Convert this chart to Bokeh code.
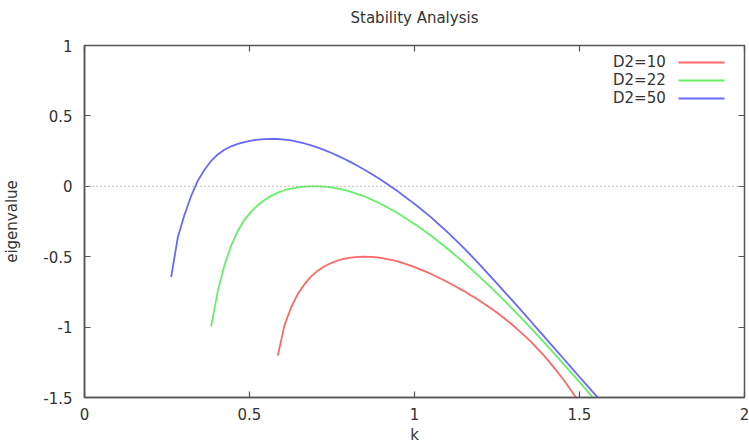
from bokeh.plotting import figure
from bokeh.models import FixedTicker, Span, Legend, LegendItem, LinearAxis, Arrow
from bokeh.embed import file_html
from bokeh.resources import INLINE

# ---- data (curve vertices, k and eigenvalue) ----
k_d10 = [0.5859, 0.6061, 0.6263, 0.6465, 0.6667, 0.6869, 0.7071, 0.7273, 0.7475, 0.7677,
         0.7879, 0.8081, 0.8283, 0.8485, 0.8687, 0.8889, 0.9091, 0.9293, 0.9495, 0.9697,
         0.9899, 1.0101, 1.0303, 1.0505, 1.0707, 1.0909, 1.1111, 1.1313, 1.1515, 1.1717,
         1.1919, 1.2121, 1.2323, 1.2525, 1.2727, 1.2929, 1.3131, 1.3333, 1.3535, 1.3737,
         1.3939, 1.4141, 1.4343, 1.4545, 1.4747, 1.4949]
lam_d10 = [-1.202, -0.986, -0.859, -0.764, -0.695, -0.640, -0.599, -0.568, -0.545, -0.527,
           -0.514, -0.506, -0.501, -0.499, -0.501, -0.505, -0.513, -0.522, -0.533, -0.549,
           -0.565, -0.583, -0.603, -0.623, -0.646, -0.669, -0.694, -0.720, -0.746, -0.775,
           -0.804, -0.836, -0.868, -0.902, -0.939, -0.976, -1.018, -1.061, -1.105, -1.156,
           -1.206, -1.263, -1.322, -1.383, -1.451, -1.519]

k_d22 = [0.3838, 0.4040, 0.4242, 0.4444, 0.4646, 0.4848, 0.5051, 0.5253, 0.5455, 0.5657,
         0.5859, 0.6061, 0.6263, 0.6465, 0.6667, 0.6869, 0.7071, 0.7273, 0.7475, 0.7677,
         0.7879, 0.8081, 0.8283, 0.8485, 0.8687, 0.8889, 0.9091, 0.9293, 0.9495, 0.9697,
         0.9899, 1.0101, 1.0303, 1.0505, 1.0707, 1.0909, 1.1111, 1.1313, 1.1515, 1.1717,
         1.1919, 1.2121, 1.2323, 1.2525, 1.2727, 1.2929, 1.3131, 1.3333, 1.3535, 1.3737,
         1.3939, 1.4141, 1.4343, 1.4545, 1.4747, 1.4949, 1.5152, 1.5354, 1.5556]
lam_d22 = [-0.996, -0.743, -0.561, -0.422, -0.317, -0.238, -0.180, -0.134, -0.097, -0.068,
           -0.045, -0.028, -0.016, -0.008, -0.003, -0.001, 0.000, -0.002, -0.007, -0.016,
           -0.026, -0.039, -0.055, -0.071, -0.093, -0.115, -0.138, -0.165, -0.191, -0.221,
           -0.251, -0.284, -0.317, -0.351, -0.389, -0.426, -0.465, -0.505, -0.545, -0.588,
           -0.631, -0.675, -0.720, -0.766, -0.813, -0.861, -0.910, -0.959, -1.009, -1.060,
           -1.112, -1.164, -1.217, -1.270, -1.323, -1.377, -1.432, -1.487, -1.543]

k_d50 = [0.2626, 0.2828, 0.3030, 0.3232, 0.3434, 0.3636, 0.3838, 0.4040, 0.4242, 0.4444,
         0.4646, 0.4848, 0.5051, 0.5253, 0.5455, 0.5657, 0.5859, 0.6061, 0.6263, 0.6465,
         0.6667, 0.6869, 0.7071, 0.7273, 0.7475, 0.7677, 0.7879, 0.8081, 0.8283, 0.8485,
         0.8687, 0.8889, 0.9091, 0.9293, 0.9495, 0.9697, 0.9899, 1.0101, 1.0303, 1.0505,
         1.0707, 1.0909, 1.1111, 1.1313, 1.1515, 1.1717, 1.1919, 1.2121, 1.2323, 1.2525,
         1.2727, 1.2929, 1.3131, 1.3333, 1.3535, 1.3737, 1.3939, 1.4141, 1.4343, 1.4545,
         1.4747, 1.4949, 1.5152, 1.5354, 1.5556]
lam_d50 = [-0.645, -0.362, -0.202, -0.069, 0.040, 0.118, 0.180, 0.226, 0.260, 0.284,
           0.301, 0.314, 0.324, 0.331, 0.335, 0.337, 0.336, 0.332, 0.326, 0.316,
           0.304, 0.290, 0.275, 0.257, 0.238, 0.216, 0.194, 0.170, 0.144, 0.118,
           0.089, 0.060, 0.029, -0.004, -0.036, -0.072, -0.107, -0.144, -0.182, -0.221,
           -0.264, -0.306, -0.350, -0.397, -0.443, -0.493, -0.542, -0.593, -0.645, -0.697,
           -0.750, -0.802, -0.855, -0.908, -0.962, -1.016, -1.070, -1.124, -1.178, -1.232,
           -1.286, -1.340, -1.394, -1.447, -1.501]

series_labels = ["D2=10", "D2=22", "D2=50"]
series_colors = ["#ff6868", "#66f066", "#6868ff"]
chart_title = "Stability Analysis"

x_ticks = [0, 0.5, 1, 1.5, 2]
x_tick_labels = ["0", "0.5", "1", "1.5", "2"]
y_ticks = [-1.5, -1, -0.5, 0, 0.5, 1]
y_tick_labels = ["-1.5", "-1", "-0.5", "0", "0.5", "1"]

FONT = "DejaVu Sans"
TXT = "#333333"
FRAME = "#555555"

p = figure(width=749, height=446, x_range=(0, 2), y_range=(-1.5, 1),
           output_backend="svg", toolbar_location=None,
           min_border_left=84, min_border_right=5, min_border_top=45, min_border_bottom=49)

p.xgrid.visible = False
p.ygrid.visible = False
p.outline_line_color = FRAME
p.outline_line_width = 1.5
p.background_fill_color = "white"
p.border_fill_color = "white"

for ax, ticks, labels in ((p.xaxis[0], x_ticks, x_tick_labels), (p.yaxis[0], y_ticks, y_tick_labels)):
    ax.ticker = FixedTicker(ticks=ticks)
    ax.major_label_overrides = {t: l for t, l in zip(ticks, labels)}
    ax.major_tick_in = 6
    ax.major_tick_out = 0
    ax.minor_tick_line_color = None
    ax.major_tick_line_color = FRAME
    ax.major_tick_line_width = 1.2
    ax.axis_line_color = FRAME
    ax.axis_line_width = 1.5
    ax.major_label_text_font = FONT
    ax.major_label_text_font_size = "15px"
    ax.major_label_text_color = TXT
    ax.axis_label_text_font = FONT
    ax.axis_label_text_font_size = "15px"
    ax.axis_label_text_font_style = "normal"
    ax.axis_label_text_color = TXT

p.xaxis.axis_label = "k"
p.xaxis.major_label_standoff = 10
p.xaxis.axis_label_standoff = 3
p.yaxis.axis_label = "eigenvalue"
p.yaxis.major_label_standoff = 12
p.yaxis.axis_label_standoff = 19

# mirrored inward ticks on top and right (no tick labels drawn);
# the chart title sits above the top axis as its label
top_axis = LinearAxis(ticker=FixedTicker(ticks=x_ticks), major_label_text_font_size="0px",
                      major_label_text_color=None, major_label_standoff=0,
                      major_tick_in=6, major_tick_out=0, minor_tick_line_color=None,
                      axis_line_color=None, major_tick_line_color=FRAME, major_tick_line_width=1.2,
                      axis_label=chart_title, axis_label_standoff=19,
                      axis_label_text_font=FONT, axis_label_text_font_size="15px",
                      axis_label_text_font_style="normal", axis_label_text_color=TXT)
p.add_layout(top_axis, "above")
right_axis = LinearAxis(ticker=FixedTicker(ticks=y_ticks), major_label_text_font_size="0px",
                        major_label_text_color=None, major_label_standoff=0,
                        major_tick_in=6, major_tick_out=0, minor_tick_line_color=None,
                        axis_line_color=None, major_tick_line_color=FRAME, major_tick_line_width=1.2)
p.add_layout(right_axis, "right")

p.add_layout(Span(location=0, dimension="width", line_color="#999999",
                  line_dash="1 3", line_width=1.2))

renderers = []
for k, lam, c in ((k_d10, lam_d10, series_colors[0]),
                  (k_d22, lam_d22, series_colors[1]),
                  (k_d50, lam_d50, series_colors[2])):
    renderers.append(p.line(k, lam, line_color=c, line_width=1.8))

# legend: labels on the left (gnuplot style), line samples to the right of them
legend = Legend(items=[LegendItem(label=lab, renderers=[r]) for lab, r in zip(series_labels, renderers)],
                location=(529, 290), glyph_width=0, glyph_height=18, label_height=18,
                spacing=0, padding=0, margin=0, label_standoff=0,
                border_line_color=None, background_fill_alpha=0,
                label_text_font=FONT, label_text_font_size="15px", label_text_color=TXT)
p.add_layout(legend)

row_y = [335, 317, 299]
for yy, c in zip(row_y, series_colors):
    p.add_layout(Arrow(end=None, x_start=594, x_end=640, y_start=yy, y_end=yy,
                       start_units="screen", end_units="screen",
                       line_color=c, line_width=2.2))

open("out.html", "w").write(file_html(p, INLINE))
